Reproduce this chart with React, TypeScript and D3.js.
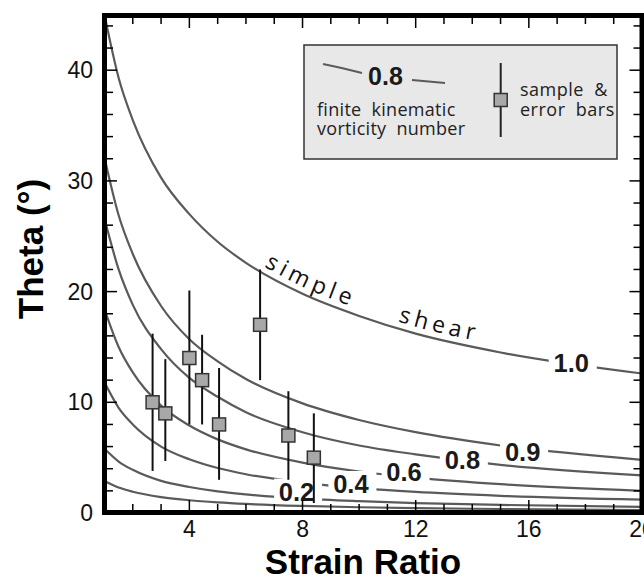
import React from 'react';
import * as d3 from 'd3';

// strain ratio grid shared by all curves
const strainRatio = [1, 1.5, 2, 3, 4, 5, 6, 8, 10, 12, 15, 20];

// theta (deg) for each finite kinematic vorticity number
const wk10 = [45, 39.3, 35.5, 30.3, 27.0, 24.5, 22.6, 19.8, 17.8, 16.2, 14.5, 12.6];
const wk09 = [32.1, 26.9, 23.4, 18.7, 15.7, 13.7, 12.1, 9.9, 8.4, 7.3, 6.1, 4.8];
const wk08 = [26.6, 22.0, 18.8, 14.8, 12.2, 10.5, 9.1, 7.3, 6.1, 5.3, 4.35, 3.4];
const wk06 = [18.4, 15.0, 12.7, 9.7, 7.9, 6.65, 5.75, 4.55, 3.75, 3.2, 2.6, 2.0];
const wk04 = [11.8, 9.5, 8.0, 6.0, 4.85, 4.06, 3.5, 2.75, 2.25, 1.9, 1.55, 1.2];
const wk02 = [5.8, 4.65, 3.9, 2.9, 2.35, 1.95, 1.68, 1.3, 1.07, 0.9, 0.73, 0.56];
const wk01 = [2.9, 2.3, 1.92, 1.44, 1.15, 0.96, 0.82, 0.64, 0.52, 0.44, 0.36, 0.27];

const curveSeries = [wk10, wk09, wk08, wk06, wk04, wk02, wk01];

// curve labels (data coords)
const labelText = ['1.0', '0.9', '0.8', '0.6', '0.4', '0.2'];
const labelR = [17.5, 15.78, 13.65, 11.59, 9.71, 7.79];
const labelTheta = [13.55, 5.54, 4.79, 3.73, 2.62, 1.93];

// samples with error bars
const sampleR = [2.7, 3.15, 4.0, 4.45, 5.05, 6.5, 7.5, 8.4];
const sampleTheta = [10, 9, 14, 12, 8, 17, 7, 5];
const sampleLow = [3.8, 4.7, 8, 8, 3, 12, 3, 0.9];
const sampleHigh = [16.2, 13.9, 20.1, 16.1, 13.1, 22, 11, 9];

const xTickLabels = [4, 8, 12, 16, 20];
const yTickLabels = [0, 10, 20, 30, 40];

const W = 644;
const H = 579;

function App() {
  const x = d3.scaleLinear().domain([1, 20]).range([104.5, 642]);
  const y = d3.scaleLinear().domain([0, 45]).range([513, 14.85]);
  const left = x(1), right = x(20), top = 15.5, bottom = 512.5;

  const line = d3.line<[number, number]>()
    .x(d => x(d[0]))
    .y(d => y(d[1]))
    .curve(d3.curveMonotoneX);

  // baseline for the "simple shear" text, a little above the 1.0 curve
  const shearPath = d3.line<[number, number]>()
    .x(d => x(d[0]))
    .y(d => y(d[1]) - 7)
    .curve(d3.curveMonotoneX);

  const ssData = strainRatio.map((r, i) => [r, wk10[i]] as [number, number]).filter(d => d[0] >= 6);

  const xMinor = d3.range(2, 20);
  const yMinor = d3.range(2, 45, 2);
  const isMajorX = (v: number) => v % 4 === 0;
  const isMajorY = (v: number) => v % 10 === 0;

  const curveColor = '#5a5a5a';
  const sans = '"Liberation Sans", Arial, Helvetica, sans-serif';
  const soft = '"Open Sans", "DejaVu Sans", sans-serif';

  return (
    <svg width={W} height={H} style={{ position: 'absolute', left: 0, top: 0, background: '#fff' }}>
      <defs>
        <clipPath id="plotClip">
          <rect x={left} y={top} width={right - left} height={bottom - top} />
        </clipPath>
        <mask id="labelGaps" maskUnits="userSpaceOnUse" x={0} y={0} width={W} height={H}>
          <rect width={W} height={H} fill="white" />
          {labelText.map((t, i) => (
            <rect key={t} x={x(labelR[i]) - 22.5} y={y(labelTheta[i]) - 13} width={48} height={24.5} fill="black" />
          ))}
        </mask>
        <path id="ssPath" d={shearPath(ssData) || ''} />
      </defs>

      <rect width={W} height={H} fill="#fff" />

      <g clipPath="url(#plotClip)">
        <g mask="url(#labelGaps)">
          {curveSeries.map((s, i) => (
            <path
              key={i}
              d={line(strainRatio.map((r, j) => [r, s[j]] as [number, number])) || ''}
              fill="none"
              stroke={curveColor}
              strokeWidth={2.2}
            />
          ))}
        </g>
      </g>

      {labelText.map((t, i) => (
        <text key={t} x={x(labelR[i])} y={y(labelTheta[i]) + 9} textAnchor="middle"
          fontFamily={sans} fontWeight="bold" fontSize={25.5} fill="#1a1a1a">{t}</text>
      ))}

      <text fontFamily={soft} fontSize={23} letterSpacing={4.5} fill="#111">
        <textPath href="#ssPath" startOffset={21}>simple</textPath>
      </text>
      <text fontFamily={soft} fontSize={23} letterSpacing={4.5} fill="#111">
        <textPath href="#ssPath" startOffset={166}>shear</textPath>
      </text>

      {/* samples */}
      {sampleR.map((r, i) => (
        <line key={'e' + i} x1={x(r)} x2={x(r)} y1={y(sampleHigh[i])} y2={y(sampleLow[i])} stroke="#111" strokeWidth={2} />
      ))}
      {sampleR.map((r, i) => (
        <rect key={'s' + i} x={x(r) - 6.5} y={y(sampleTheta[i]) - 6.5} width={13} height={13}
          fill="#a8a8a8" stroke="#333" strokeWidth={1.5} />
      ))}

      {/* legend */}
      <rect x={304} y={45} width={313} height={114} fill="#e8e8e8" stroke="#333" strokeWidth={1.5} />
      <path d="M323,64 Q343,68 362,73" fill="none" stroke={curveColor} strokeWidth={2.2} />
      <path d="M412,80 Q428,81.5 445,83" fill="none" stroke={curveColor} strokeWidth={2.2} />
      <text x={385.5} y={85} textAnchor="middle" fontFamily={sans} fontWeight="bold" fontSize={25} fill="#1a1a1a">0.8</text>
      <text x={317} y={116} fontFamily={soft} fontSize={18} letterSpacing={0.3} fill="#222" style={{ whiteSpace: 'pre' }}>finite  kinematic</text>
      <text x={317} y={135} fontFamily={soft} fontSize={18} letterSpacing={0.3} fill="#222" style={{ whiteSpace: 'pre' }}>vorticity  number</text>
      <line x1={500.7} x2={500.7} y1={63} y2={137} stroke="#222" strokeWidth={2} />
      <rect x={494.2} y={93.5} width={13} height={13} fill="#a8a8a8" stroke="#333" strokeWidth={1.5} />
      <text x={520} y={96} fontFamily={soft} fontSize={18} letterSpacing={0.5} fill="#222" style={{ whiteSpace: 'pre' }}>sample  &amp;</text>
      <text x={520} y={116} fontFamily={soft} fontSize={18} letterSpacing={0.5} fill="#222" style={{ whiteSpace: 'pre' }}>error  bars</text>

      {/* ticks */}
      <g stroke="#000" strokeWidth={1.5}>
        {xMinor.map(v => {
          const len = isMajorX(v) ? 10 : 6;
          return (
            <g key={'xt' + v}>
              <line x1={x(v)} x2={x(v)} y1={bottom} y2={bottom - 2.5 - len} />
              <line x1={x(v)} x2={x(v)} y1={top} y2={top + 2.5 + len} />
            </g>
          );
        })}
        {yMinor.map(v => {
          const len = isMajorY(v) ? 10 : 6;
          return (
            <g key={'yt' + v}>
              <line x1={left} x2={left + 2.5 + len} y1={y(v)} y2={y(v)} />
              <line x1={right} x2={right - 2.5 - len} y1={y(v)} y2={y(v)} />
            </g>
          );
        })}
      </g>

      {/* frame */}
      <rect x={left} y={top} width={right - left} height={bottom - top} fill="none" stroke="#000" strokeWidth={5} />

      {/* tick labels */}
      {xTickLabels.map(v => (
        <text key={'xl' + v} x={x(v)} y={537} textAnchor="middle" fontFamily={sans} fontSize={23} fill="#111">{v}</text>
      ))}
      {yTickLabels.map(v => (
        <text key={'yl' + v} x={93} y={y(v) + 8} textAnchor="end" fontFamily={sans} fontSize={23} fill="#111">{v}</text>
      ))}

      {/* axis titles */}
      <text x={363} y={574} textAnchor="middle" fontFamily={sans} fontWeight="bold" fontSize={35} fill="#000">Strain Ratio</text>
      <text transform="translate(43,249) rotate(-90)" textAnchor="middle" fontFamily={sans} fontWeight="bold" fontSize={35} fill="#000">Theta (°)</text>
    </svg>
  );
}

export default App;
